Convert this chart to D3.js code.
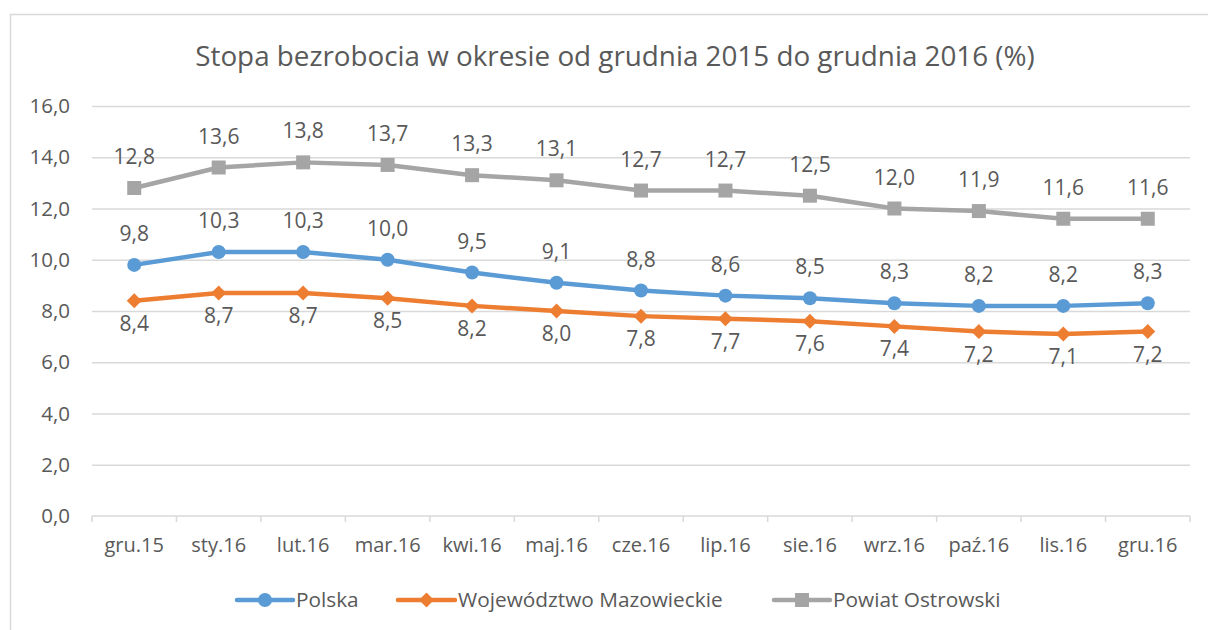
<!DOCTYPE html>
<html><head><meta charset="utf-8">
<script src="https://cdn.jsdelivr.net/npm/d3@7"></script>
<style>
html,body{margin:0;padding:0;background:#fff;}
svg{display:block;font-family:"Open Sans","Noto Sans",sans-serif;}
</style></head>
<body>
<svg id="c" width="1208" height="630"></svg>
<script>
const categories = ["gru.15","sty.16","lut.16","mar.16","kwi.16","maj.16","cze.16","lip.16","sie.16","wrz.16","paź.16","lis.16","gru.16"];
const polska = [9.8,10.3,10.3,10.0,9.5,9.1,8.8,8.6,8.5,8.3,8.2,8.2,8.3];
const mazowieckie = [8.4,8.7,8.7,8.5,8.2,8.0,7.8,7.7,7.6,7.4,7.2,7.1,7.2];
const ostrowski = [12.8,13.6,13.8,13.7,13.3,13.1,12.7,12.7,12.5,12.0,11.9,11.6,11.6];
const yTicks = [0,2,4,6,8,10,12,14,16];
const seriesNames = ["Polska","Województwo Mazowieckie","Powiat Ostrowski"];
const title = "Stopa bezrobocia w okresie od grudnia 2015 do grudnia 2016 (%)";

const series = [
  {name: seriesNames[0], values: polska, color: "#5B9BD5", marker: "circle", labelPos: "above"},
  {name: seriesNames[1], values: mazowieckie, color: "#ED7D31", marker: "diamond", labelPos: "below"},
  {name: seriesNames[2], values: ostrowski, color: "#A5A5A5", marker: "square", labelPos: "above"}
];

const svg = d3.select("#c");
const textColor = "#595959";
const gridColor = "#D9D9D9";
const fmt = v => d3.format(".1f")(v).replace(".", ",");

// chart border
svg.append("rect").attr("x", 10.5).attr("y", 14.5).attr("width", 1230).attr("height", 700)
  .attr("fill", "#fff").attr("stroke", gridColor).attr("stroke-width", 1.5);

const plot = {left: 92, right: 1190, top: 106, bottom: 516};
const x = d3.scaleBand().domain(categories).range([plot.left, plot.right]).padding(0);
const y = d3.scaleLinear().domain([0, 16]).range([plot.bottom, plot.top]);

// title
svg.append("text").attr("x", 615).attr("y", 66).attr("text-anchor", "middle")
  .attr("fill", textColor).attr("font-size", 27.8).text(title);

// gridlines
const yAxis = d3.axisLeft(y).tickValues(yTicks).tickSize(-(plot.right - plot.left)).tickPadding(22).tickFormat(fmt);
const gy = svg.append("g").attr("transform", `translate(${plot.left},0)`).call(yAxis);
gy.select(".domain").remove();
gy.selectAll(".tick line").attr("stroke", gridColor).attr("stroke-width", 1.5);
gy.selectAll(".tick text").attr("fill", textColor).attr("font-size", 20.5).attr("font-family", '"Open Sans",sans-serif');
gy.selectAll(".tick").filter(d => d === 0).select("line").remove();

// x axis
const xAxis = d3.axisBottom(x).tickSize(0).tickPadding(22);
const gx = svg.append("g").attr("transform", `translate(0,${plot.bottom})`).call(xAxis);
gx.select(".domain").attr("stroke", gridColor).attr("stroke-width", 1.5).attr("d", `M${plot.left},0H${plot.right}`);
gx.selectAll(".tick text").attr("fill", textColor).attr("font-size", 20).attr("font-family", '"Open Sans",sans-serif');
// boundary tick marks
const bounds = categories.map(c => x(c)).concat([plot.right]);
gx.selectAll(".bnd").data(bounds).enter().append("line")
  .attr("x1", d => d).attr("x2", d => d).attr("y1", 0).attr("y2", 6)
  .attr("stroke", gridColor).attr("stroke-width", 1.5);

const cx = c => x(c) + x.bandwidth() / 2;

function drawMarker(g, type, color, px, py, scale) {
  scale = scale || 1;
  if (type === "circle") {
    g.append("circle").attr("cx", px).attr("cy", py).attr("r", 7 * scale).attr("fill", color);
  } else if (type === "diamond") {
    const s = 7.5 * scale;
    g.append("path").attr("d", `M${px},${py - s}L${px + s},${py}L${px},${py + s}L${px - s},${py}Z`).attr("fill", color);
  } else {
    const s = 7 * scale;
    g.append("rect").attr("x", px - s).attr("y", py - s).attr("width", 2 * s).attr("height", 2 * s).attr("fill", color);
  }
}

const line = d3.line().x((d, i) => cx(categories[i])).y(d => y(d));

series.forEach(s => {
  const g = svg.append("g");
  g.append("path").datum(s.values).attr("d", line).attr("fill", "none")
    .attr("stroke", s.color).attr("stroke-width", 4.5).attr("stroke-linejoin", "round").attr("stroke-linecap", "round");
  s.values.forEach((v, i) => drawMarker(g, s.marker, s.color, cx(categories[i]), y(v)));
  g.selectAll(".lbl").data(s.values).enter().append("text")
    .attr("x", (d, i) => cx(categories[i]))
    .attr("y", d => s.labelPos === "above" ? y(d) - 24 : y(d) + 30)
    .attr("text-anchor", "middle").attr("fill", textColor).attr("font-size", 21)
    .text(fmt);
});

// legend
const legendItems = [
  {s: series[0], x0: 237, x1: 293},
  {s: series[1], x0: 398, x1: 455},
  {s: series[2], x0: 774, x1: 830}
];
const ly = 600;
legendItems.forEach(it => {
  const g = svg.append("g");
  g.append("line").attr("x1", it.x0).attr("x2", it.x1).attr("y1", ly).attr("y2", ly)
    .attr("stroke", it.s.color).attr("stroke-width", 4.5).attr("stroke-linecap", "round");
  drawMarker(g, it.s.marker, it.s.color, (it.x0 + it.x1) / 2, ly);
  g.append("text").attr("x", it.x1 + 3).attr("y", ly).attr("dy", "0.35em")
    .attr("fill", textColor).attr("font-size", 20.8).text(it.s.name);
});
</script>
</body></html>
